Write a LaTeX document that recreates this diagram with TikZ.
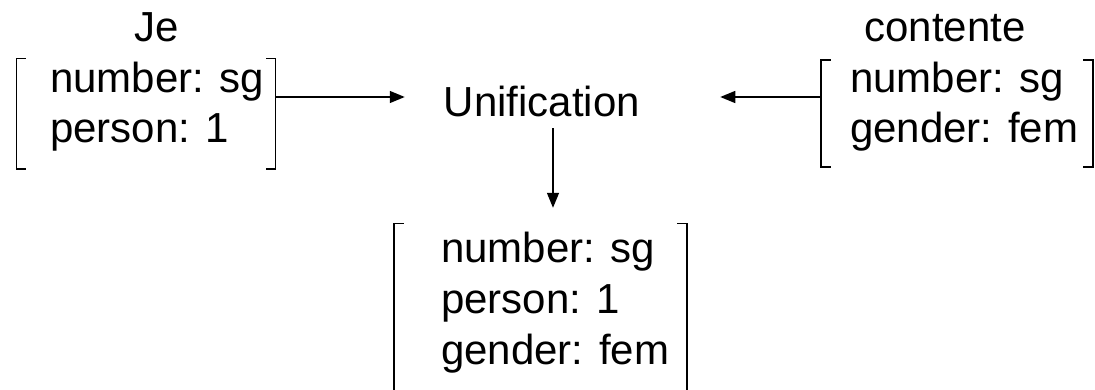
\documentclass[tikz,border=0pt]{standalone}
\usepackage{fontspec}
\setmainfont{Liberation Sans}
\usetikzlibrary{arrows.meta}
\tikzset{
  txt/.style={inner sep=0pt, font=\fontsize{42}{50}\selectfont},
  line/.style={txt, anchor=base west},
  boxarea/.style={draw=none, inner sep=0pt, rectangle},
  br/.style={line width=1.5pt, line cap=rect},
  arr/.style={line width=1.4pt, -{Triangle[length=15pt,width=12pt]}}
}
\begin{document}
\begin{tikzpicture}[x=1pt,y=-1pt]
\useasboundingbox (0,0) rectangle (1095,390);
% box areas
\node[boxarea, minimum width=259pt, minimum height=110.5pt] (lbox) at (146,113.75) {};
\node[boxarea, minimum width=272pt, minimum height=107pt] (rbox) at (957,113.5) {};
\node[boxarea, minimum width=293pt, minimum height=166.5pt] (bbox) at (540.5,306.75) {};
% titles
\node[txt, anchor=base] (je) at (157,42) {Je};
\node[txt, anchor=base] (contente) at (945,42) {contente};
\node[txt, anchor=base, text height=40pt, text depth=0pt] (unif) at (542,117) {Unification};
% feature lines
\node[line] (l1) at (50,93) {number: sg};
\node[line] (l2) at (50,143) {person: 1};
\node[line] (r1) at (850,93) {number: sg};
\node[line] (r2) at (850,143) {gender: fem};
\node[line] (b1) at (441,262) {number: sg};
\node[line] (b2) at (441,313) {person: 1};
\node[line] (b3) at (441,364) {gender: fem};
% brackets
\draw[br] ([xshift=9pt]lbox.north west) -- (lbox.north west) -- (lbox.south west) -- ([xshift=9pt]lbox.south west);
\draw[br] ([xshift=-9pt]lbox.north east) -- (lbox.north east) -- (lbox.south east) -- ([xshift=-9pt]lbox.south east);
\draw[br] ([xshift=9pt]rbox.north west) -- (rbox.north west) -- (rbox.south west) -- ([xshift=9pt]rbox.south west);
\draw[br] ([xshift=-9pt]rbox.north east) -- (rbox.north east) -- (rbox.south east) -- ([xshift=-9pt]rbox.south east);
\draw[br] ([xshift=9pt]bbox.north west) -- (bbox.north west) -- (bbox.south west);
\draw[br] ([xshift=-9pt]bbox.north east) -- (bbox.north east) -- (bbox.south east);
% arrows
\draw[arr] (lbox.east |- unif.west) -- ([xshift=-39pt]unif.west);
\draw[arr] (rbox.west |- unif.east) -- ([xshift=80pt]unif.east);
\draw[arr, shorten >=15.5pt] ([xshift=11pt,yshift=-11pt]unif.south) -- ([xshift=11pt]unif.south |- bbox.north);
\end{tikzpicture}
\end{document}
